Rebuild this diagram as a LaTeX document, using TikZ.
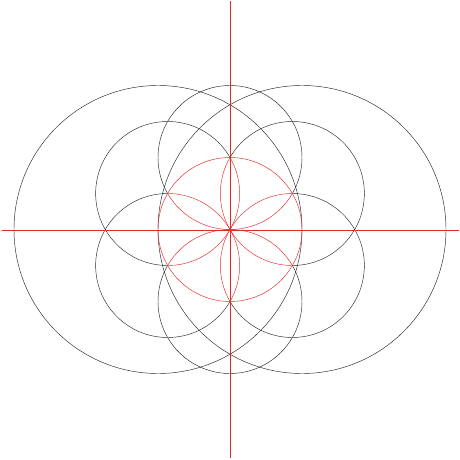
\documentclass[tikz,border=0pt]{standalone}
\usetikzlibrary{calc}
\definecolor{myred}{RGB}{228,40,40}
\begin{document}
\begin{tikzpicture}[x=1pt,y=1pt,
  blk/.style={draw=black!85,line width=0.45pt},
  rd/.style={draw=myred,line width=0.45pt}]
\useasboundingbox (0,0) rectangle (460,459);
\coordinate (O) at (230,229.5);
% big black circles
\draw[blk] ($(O)+(-72,0)$) circle (144);
\draw[blk] ($(O)+(72,0)$) circle (144);
% six black circles, outside the red circle
\begin{scope}[even odd rule]
  \clip (O) circle (72) (0,0) rectangle (460,459);
  \foreach \a in {30,90,150,210,270,330}{
    \draw[blk] ($(O)+(\a:72)$) circle (72);
  }
\end{scope}
% red parts
\draw[rd] (O) circle (72);
\begin{scope}
  \clip (O) circle (72);
  \foreach \a in {30,90,150,210,270,330}{
    \draw[rd] ($(O)+(\a:72)$) circle (72);
  }
\end{scope}
% axes
\coordinate (L) at (1.5,229.2);
\coordinate (R) at (459,229.2);
\coordinate (T) at (230.3,458);
\coordinate (B) at (230.3,1);
\draw[rd] (L) -- (R);
\draw[rd] (B) -- (T);
\end{tikzpicture}
\end{document}
